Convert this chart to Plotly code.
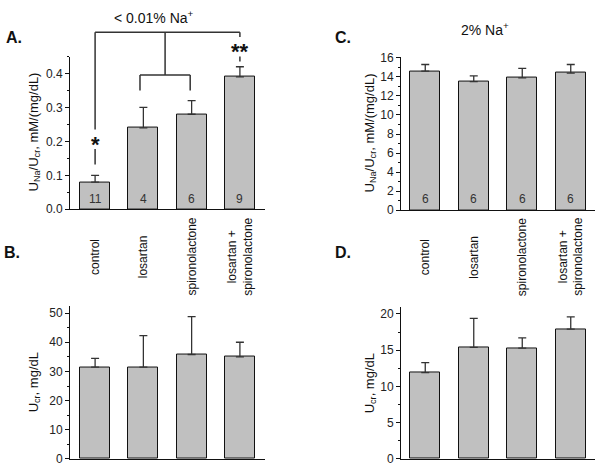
import plotly.graph_objects as go

# ---- data ----
categories = ["control", "losartan", "spironolactone", "losartan +<br>spironolactone"]
cat_idx = [0, 1, 2, 3]

# Panel A: UNa/Ucr, <0.01% Na+
a_vals = [0.08, 0.24, 0.28, 0.39]
a_err = [0.02, 0.06, 0.04, 0.03]
a_n = ["11", "4", "6", "9"]

# Panel C: UNa/Ucr, 2% Na+
c_vals = [14.6, 13.5, 13.9, 14.4]
c_err = [0.7, 0.6, 1.0, 0.9]
c_n = ["6", "6", "6", "6"]

# Panel B: Ucr, <0.01% Na+
b_vals = [31.5, 31.5, 35.8, 35.0]
b_err = [3.0, 10.8, 13.0, 5.0]

# Panel D: Ucr, 2% Na+
d_vals = [11.9, 15.4, 15.3, 17.9]
d_err = [1.4, 4.0, 1.4, 1.7]

W, H = 600, 473
def fx(px): return px / W
def fy(py): return 1 - py / H

FONT = "Liberation Sans, Arial, sans-serif"
BAR = "#c0c0c0"
DARK = "#333333"

fig = go.Figure()

def add_bars(vals, err, xa, ya):
    fig.add_trace(go.Bar(
        x=cat_idx, y=vals, xaxis=xa, yaxis=ya, width=0.62,
        marker=dict(color=BAR, line=dict(color="#111111", width=1)),
        error_y=dict(type="data", array=err, arrayminus=[0]*len(err), symmetric=False,
                     color=DARK, thickness=1.3, width=4),
        showlegend=False, hoverinfo="skip"))

add_bars(a_vals, a_err, "x", "y")
add_bars(c_vals, c_err, "x2", "y2")
add_bars(b_vals, b_err, "x3", "y3")
add_bars(d_vals, d_err, "x4", "y4")

xcommon = dict(range=[-0.52, 3.52], showline=True, linecolor="#111111", linewidth=1,
               tickmode="array", tickvals=[], showticklabels=False, ticks="",
               showgrid=False, zeroline=False, fixedrange=True)
def ycommon(rng, dt, mdt, fmt):
    return dict(range=rng, showline=True, linecolor="#111111", linewidth=1,
                ticks="outside", ticklen=4, tickcolor="#111111", dtick=dt, tick0=0,
                tickformat=fmt, showgrid=False, zeroline=False,
                minor=dict(ticks="outside", ticklen=2, dtick=mdt, tickcolor="#111111", showgrid=False),
                tickfont=dict(family=FONT, size=12, color="#222222"), fixedrange=True)

fig.update_layout(
    width=W, height=H, margin=dict(l=0, r=0, t=0, b=0),
    paper_bgcolor="white", plot_bgcolor="white",
    xaxis=dict(domain=[fx(70), fx(265)], anchor="y", **xcommon),
    yaxis=dict(domain=[fy(209), fy(52)], anchor="x", **ycommon([0, 0.45], 0.1, 0.05, ".1f")),
    xaxis2=dict(domain=[fx(401), fx(595)], anchor="y2", **{**xcommon, "range": [-0.5, 3.5]}),
    yaxis2=dict(domain=[fy(210), fy(52)], anchor="x2", **ycommon([0, 16.13], 2, 1, "d")),
    xaxis3=dict(domain=[fx(70), fx(265)], anchor="y3", **xcommon),
    yaxis3=dict(domain=[fy(465.7), fy(308)], anchor="x3", **ycommon([0, 52.6], 10, 5, "d")),
    xaxis4=dict(domain=[fx(401), fx(595)], anchor="y4", **{**xcommon, "range": [-0.5, 3.5]}),
    yaxis4=dict(domain=[fy(465.7), fy(310)], anchor="x4", **ycommon([0, 20.9], 5, 2.5, "d")),
    bargap=0,
)

ann = []
def text(x, y, s, size=12, xref="paper", yref="paper", bold=False, angle=0, color="#111111"):
    ann.append(dict(x=x, y=y, xref=xref, yref=yref, text=("<b>%s</b>" % s) if bold else s,
                    showarrow=False, textangle=angle, xanchor="center", yanchor="middle",
                    font=dict(family=FONT, size=size, color=color)))

# panel letters
text(fx(14), fy(32), "A.", 16, bold=True)
text(fx(343), fy(32), "C.", 16, bold=True)
text(fx(12), fy(253), "B.", 16, bold=True)
text(fx(343), fy(253), "D.", 16, bold=True)

# titles
text(fx(154), fy(11), "&lt; 0.01% Na<sup>+</sup>", 14)
text(fx(485), fy(24), "2% Na<sup>+</sup>", 14)

# y-axis titles
text(fx(34), fy(130), "U<sub>Na</sub>/U<sub>cr</sub>, mM/(mg/dL)", 13, angle=-90)
text(fx(370), fy(131), "U<sub>Na</sub>/U<sub>cr</sub>, mM/(mg/dL)", 13, angle=-90)
text(fx(34), fy(387), "U<sub>cr</sub>, mg/dL", 13, angle=-90)
text(fx(370), fy(388), "U<sub>cr</sub>, mg/dL", 13, angle=-90)

# category labels (rotated) between rows
for i, c in zip(cat_idx, categories):
    text(i, fy(258), c, 12, xref="x", angle=-90)
    text(i, fy(258), c, 12, xref="x2", angle=-90)

# n labels inside bars
for i, n in zip(cat_idx, a_n):
    text(i, 0.0315, n, 12, xref="x", yref="y", color=DARK)
for i, n in zip(cat_idx, c_n):
    text(i, 1.22, n, 12, xref="x2", yref="y2", color=DARK)

# significance stars
text(0, fy(142), "*", 22, xref="x", bold=True)
text(3, fy(47), "**", 22, xref="x", bold=True)

fig.update_layout(annotations=ann)

# brackets
def seg(x0, y0, x1, y1):
    fig.add_shape(type="line", xref="x", yref="paper", x0=x0, x1=x1, y0=fy(y0), y1=fy(y1),
                  line=dict(color=DARK, width=1.5))

seg(0, 27, 0, 127)
seg(0, 27, 3, 27)
seg(3, 27, 3, 32)
seg(1.45, 27, 1.45, 71)
seg(0.93, 71, 1.97, 71)
seg(0.93, 71, 0.93, 87)
seg(1.97, 71, 1.97, 87)
seg(0, 147, 0, 163)
seg(3, 52, 3, 57)

fig.write_html("out.html", config={"displayModeBar": False},
               post_script="document.body.style.margin='0';document.body.style.padding='0';")
